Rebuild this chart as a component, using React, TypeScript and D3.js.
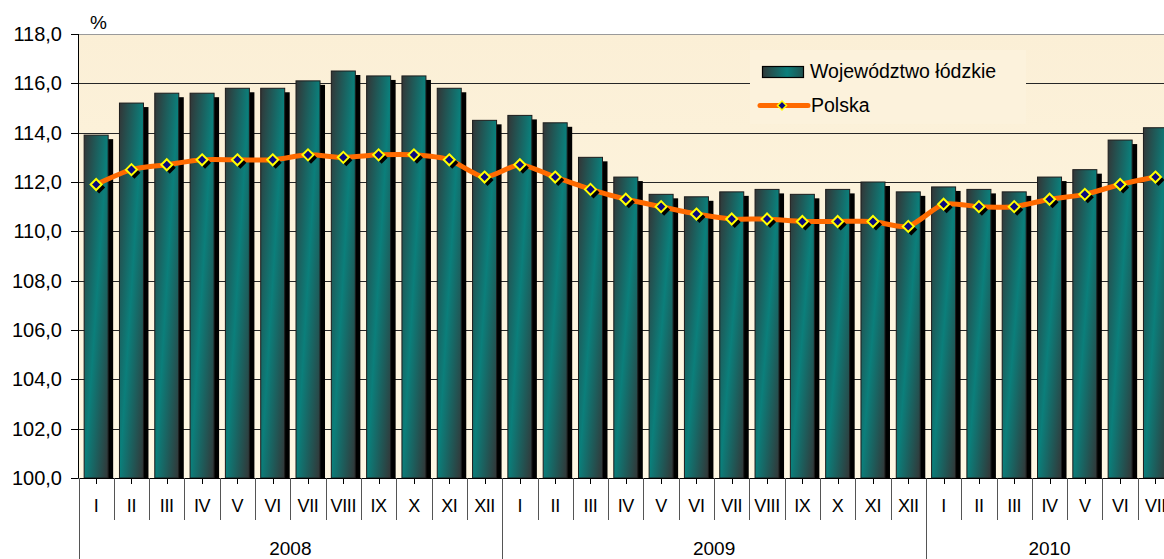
import { useEffect, useRef } from "react";
import * as d3 from "d3";

const MONTHS = ["I", "II", "III", "IV", "V", "VI", "VII", "VIII", "IX", "X", "XI", "XII"];
const YEARS = ["2008", "2009", "2010"];
const MONTHS_PER_YEAR = [12, 12, 7];

const LODZKIE = [
  113.9, 115.2, 115.6, 115.6, 115.8, 115.8, 116.1, 116.5, 116.3, 116.3, 115.8, 114.5,
  114.7, 114.4, 113.0, 112.2, 111.5, 111.4, 111.6, 111.7, 111.5, 111.7, 112.0, 111.6,
  111.8, 111.7, 111.6, 112.2, 112.5, 113.7, 114.2,
];
const POLSKA = [
  111.9, 112.5, 112.7, 112.9, 112.9, 112.9, 113.1, 113.0, 113.1, 113.1, 112.9, 112.2,
  112.7, 112.2, 111.7, 111.3, 111.0, 110.7, 110.5, 110.5, 110.4, 110.4, 110.4, 110.2,
  111.1, 111.0, 111.0, 111.3, 111.5, 111.9, 112.2,
];
const Y_TICKS = [100, 102, 104, 106, 108, 110, 112, 114, 116, 118];
const LEGEND = ["Województwo łódzkie", "Polska"];

const W = 1164;
const H = 559;
const FONT = "'Liberation Sans', Arial, sans-serif";

export default function App() {
  const svgRef = useRef<SVGSVGElement>(null);

  useEffect(() => {
    if (!svgRef.current) return;
    const svg = d3.select(svgRef.current);
    svg.selectAll("*").remove();

    const step = 35.31;
    const left = 78.5;
    const top = 34;
    const bottom = 478;
    const n = LODZKIE.length;

    const labels = YEARS.flatMap((yr, i) =>
      MONTHS.slice(0, MONTHS_PER_YEAR[i]).map((m) => `${m}-${yr}`)
    );

    const x = d3
      .scaleBand<string>()
      .domain(labels)
      .range([left, left + n * step])
      .paddingInner(0.32)
      .paddingOuter(0.16);
    const y = d3.scaleLinear().domain([100, 118]).range([bottom, top]);

    const defs = svg.append("defs");
    const bg = defs
      .append("linearGradient")
      .attr("id", "bg")
      .attr("x1", 0)
      .attr("y1", 0)
      .attr("x2", 0)
      .attr("y2", 1);
    bg.append("stop").attr("offset", 0).attr("stop-color", "#fbefd6");
    bg.append("stop").attr("offset", 1).attr("stop-color", "#fff8e4");

    // diagonal gradient: dark->teal at the top of a bar, teal->dark at the bottom
    const barGrad = defs
      .append("linearGradient")
      .attr("id", "bar")
      .attr("x1", 0)
      .attr("y1", 0)
      .attr("x2", 1)
      .attr("y2", 1);
    barGrad.append("stop").attr("offset", 0).attr("stop-color", "#333536");
    barGrad.append("stop").attr("offset", 0.5).attr("stop-color", "#0b7f7b");
    barGrad.append("stop").attr("offset", 1).attr("stop-color", "#333536");

    const legGrad = defs
      .append("linearGradient")
      .attr("id", "leg")
      .attr("x1", 0)
      .attr("y1", 0)
      .attr("x2", 1)
      .attr("y2", 0);
    legGrad.append("stop").attr("offset", 0).attr("stop-color", "#2f3a3a");
    legGrad.append("stop").attr("offset", 0.6).attr("stop-color", "#0b7f7b");
    legGrad.append("stop").attr("offset", 1).attr("stop-color", "#20504e");

    svg.append("rect").attr("width", W).attr("height", H).attr("fill", "#ffffff");

    // plot area background
    svg
      .append("rect")
      .attr("x", left)
      .attr("y", top)
      .attr("width", n * step)
      .attr("height", bottom - top)
      .attr("fill", "url(#bg)");

    // grid lines
    svg
      .append("g")
      .selectAll("line")
      .data(Y_TICKS.filter((t) => t > 100))
      .join("line")
      .attr("x1", left)
      .attr("x2", left + n * step)
      .attr("y1", (d) => Math.round(y(d)) + 0.5)
      .attr("y2", (d) => Math.round(y(d)) + 0.5)
      .attr("stroke", (d) => (d === 118 ? "#9a9a9a" : "#262626"))
      .attr("stroke-width", 1);

    // legend box (covers grid)
    svg
      .append("rect")
      .attr("x", 750)
      .attr("y", 50)
      .attr("width", 276)
      .attr("height", 74)
      .attr("fill", "#fcf2dc");

    // bar shadows
    svg
      .append("g")
      .selectAll("rect")
      .data(LODZKIE)
      .join("rect")
      .attr("x", (_, i) => x(labels[i])! + 5)
      .attr("y", (d) => y(d) + 4)
      .attr("width", x.bandwidth())
      .attr("height", (d) => bottom - y(d) - 4)
      .attr("fill", "#000");

    // bars
    svg
      .append("g")
      .selectAll("rect")
      .data(LODZKIE)
      .join("rect")
      .attr("x", (_, i) => x(labels[i])!)
      .attr("y", (d) => y(d))
      .attr("width", x.bandwidth())
      .attr("height", (d) => bottom - y(d))
      .attr("fill", "url(#bar)")
      .attr("stroke", "#1c1c1c")
      .attr("stroke-width", 1);

    // line
    const cx = (i: number) => x(labels[i])! + x.bandwidth() / 2;
    const line = d3
      .line<number>()
      .x((_, i) => cx(i))
      .y((d) => y(d))
      .curve(d3.curveCardinal.tension(0.3));
    svg
      .append("path")
      .attr("d", line(POLSKA))
      .attr("fill", "none")
      .attr("stroke", "#ff6a00")
      .attr("stroke-width", 5)
      .attr("stroke-linejoin", "round");

    const diamond = (px: number, py: number, r: number) =>
      `M${px},${py - r}L${px + r},${py}L${px},${py + r}L${px - r},${py}Z`;

    svg
      .append("g")
      .selectAll("path")
      .data(POLSKA)
      .join("path")
      .attr("d", (d, i) => diamond(cx(i) + 3, y(d) + 3, 6))
      .attr("fill", "#000");
    svg
      .append("g")
      .selectAll("path")
      .data(POLSKA)
      .join("path")
      .attr("d", (d, i) => diamond(cx(i), y(d), 5.5))
      .attr("fill", "#0a0a80")
      .attr("stroke", "#ffff00")
      .attr("stroke-width", 2);

    // y axis
    svg
      .append("line")
      .attr("x1", left)
      .attr("x2", left)
      .attr("y1", top)
      .attr("y2", bottom)
      .attr("stroke", "#000");
    const yAxis = svg.append("g");
    yAxis
      .selectAll("line")
      .data(Y_TICKS)
      .join("line")
      .attr("x1", 71)
      .attr("x2", left)
      .attr("y1", (d) => Math.round(y(d)) + 0.5)
      .attr("y2", (d) => Math.round(y(d)) + 0.5)
      .attr("stroke", "#000");
    yAxis
      .selectAll("text")
      .data(Y_TICKS)
      .join("text")
      .attr("x", 62)
      .attr("y", (d) => y(d) + 7)
      .attr("text-anchor", "end")
      .attr("font-family", FONT)
      .attr("font-size", 20)
      .attr("fill", "#000")
      .text((d) => d.toFixed(1).replace(".", ","));
    svg
      .append("text")
      .attr("x", 90)
      .attr("y", 29)
      .attr("font-family", FONT)
      .attr("font-size", 19)
      .text("%");

    // x axis
    svg
      .append("line")
      .attr("x1", left)
      .attr("x2", left + n * step)
      .attr("y1", bottom + 0.5)
      .attr("y2", bottom + 0.5)
      .attr("stroke", "#000");
    const xAxis = svg.append("g");
    xAxis
      .selectAll("line.tick")
      .data(labels)
      .join("line")
      .attr("class", "tick")
      .attr("x1", (d) => Math.round(x(d)! + x.bandwidth() / 2) + 0.5)
      .attr("x2", (d) => Math.round(x(d)! + x.bandwidth() / 2) + 0.5)
      .attr("y1", bottom)
      .attr("y2", bottom + 6)
      .attr("stroke", "#000");
    xAxis
      .selectAll("line.sep")
      .data(d3.range(n + 1))
      .join("line")
      .attr("class", "sep")
      .attr("x1", (i) => Math.round(left + i * step) + 0.5)
      .attr("x2", (i) => Math.round(left + i * step) + 0.5)
      .attr("y1", bottom)
      .attr("y2", (i) => (i === 0 || i === 12 || i === 24 ? H : 520))
      .attr("stroke", "#555");
    xAxis
      .selectAll("text")
      .data(labels)
      .join("text")
      .attr("x", (d) => x(d)! + x.bandwidth() / 2)
      .attr("y", 512)
      .attr("text-anchor", "middle")
      .attr("font-family", FONT)
      .attr("font-size", 18)
      .attr("letter-spacing", -0.4)
      .text((d) => d.split("-")[0]);

    let start = 0;
    YEARS.forEach((yr, i) => {
      const count = MONTHS_PER_YEAR[i];
      svg
        .append("text")
        .attr("x", left + (start + count / 2) * step)
        .attr("y", 555)
        .attr("text-anchor", "middle")
        .attr("font-family", FONT)
        .attr("font-size", 19)
        .text(yr);
      start += count;
    });

    // legend
    svg
      .append("rect")
      .attr("x", 762.5)
      .attr("y", 66.5)
      .attr("width", 41)
      .attr("height", 11)
      .attr("fill", "url(#leg)")
      .attr("stroke", "#000")
      .attr("stroke-width", 1.2);
    svg
      .append("text")
      .attr("x", 810)
      .attr("y", 78)
      .attr("font-family", FONT)
      .attr("font-size", 19.5)
      .text(LEGEND[0]);
    svg
      .append("line")
      .attr("x1", 760)
      .attr("x2", 808)
      .attr("y1", 105.5)
      .attr("y2", 105.5)
      .attr("stroke", "#ff6a00")
      .attr("stroke-width", 5)
      .attr("stroke-linecap", "round");
    svg
      .append("path")
      .attr("d", diamond(782, 105.5, 4.5))
      .attr("fill", "#0a0a80")
      .attr("stroke", "#ffff00")
      .attr("stroke-width", 1.5);
    svg
      .append("text")
      .attr("x", 811)
      .attr("y", 112)
      .attr("font-family", FONT)
      .attr("font-size", 19.5)
      .text(LEGEND[1]);
  }, []);

  return (
    <svg
      ref={svgRef}
      width={W}
      height={H}
      style={{ position: "absolute", left: 0, top: 0, display: "block" }}
    />
  );
}
